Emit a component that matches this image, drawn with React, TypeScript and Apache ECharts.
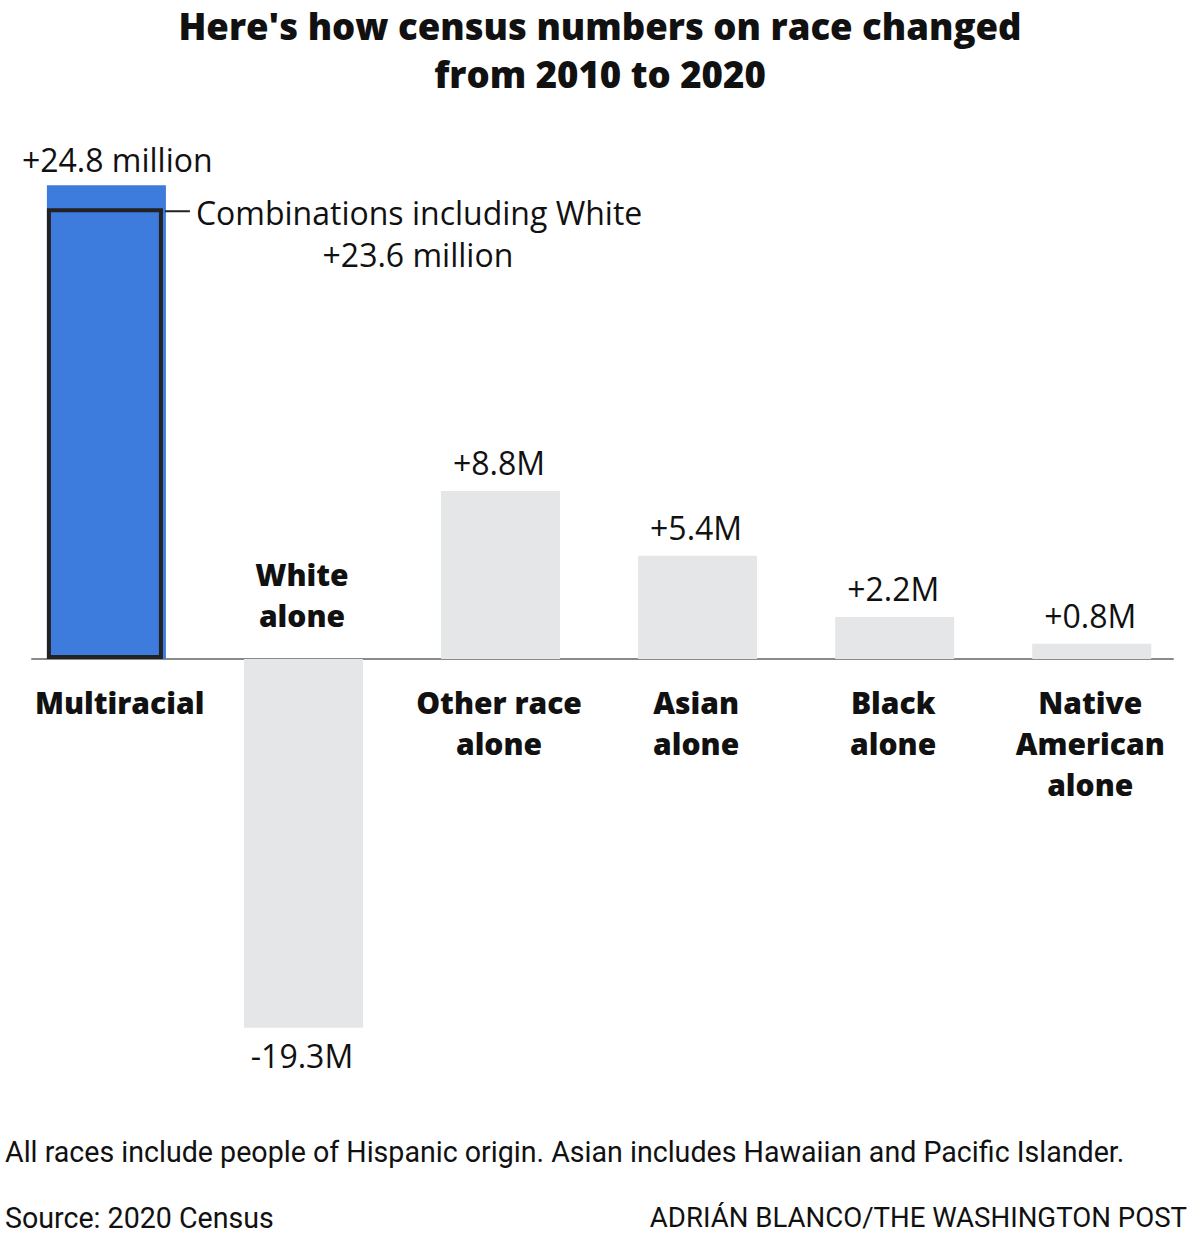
import React, { useEffect, useRef } from "react";
import * as echarts from "echarts";

// Change in population, 2010 to 2020, in millions
const categories = [
  "Multiracial",
  "White\nalone",
  "Other race\nalone",
  "Asian\nalone",
  "Black\nalone",
  "Native\nAmerican\nalone",
];
const changes = [24.8, -19.3, 8.8, 5.4, 2.2, 0.8];
const valueLabels = ["+24.8 million", "-19.3M", "+8.8M", "+5.4M", "+2.2M", "+0.8M"];
const whiteComboValue = 23.6;
const whiteComboLabel = "Combinations including White";
const whiteComboValueLabel = "+23.6 million";

const titleText = "Here's how census numbers on race changed\nfrom 2010 to 2020";
const noteText = "All races include people of Hispanic origin. Asian includes Hawaiian and Pacific Islander.";
const sourceText = "Source: 2020 Census";
const creditText = "ADRIÁN BLANCO/THE WASHINGTON POST";

const BLUE = "#3d7bdd";
const GREY = "#e5e6e7";
const FONT = "'Open Sans', Roboto, sans-serif";
const NOTE_FONT = "Roboto, 'Open Sans', sans-serif";

export default function App() {
  const ref = useRef<HTMLDivElement>(null);

  useEffect(() => {
    if (!ref.current) return;
    const chart = echarts.init(ref.current, null, { renderer: "svg" });

    const barData = changes.map((v, i) => ({
      value: [i, v],
      itemStyle: { color: i === 0 ? BLUE : GREY },
    }));

    const option: any = {
      animation: false,
      backgroundColor: "#fff",
      title: {
        text: titleText,
        left: "center",
        top: 2,
        padding: 0,
        textStyle: {
          fontFamily: FONT,
          fontWeight: 800,
          fontSize: 36.5,
          lineHeight: 48,
          color: "#111",
        },
      },
      grid: { left: 32, top: 181.5, width: 1141, height: 859.5 },
      xAxis: {
        type: "value",
        min: -0.37,
        max: 5.42,
        axisLine: { onZero: true, lineStyle: { color: "#8a8a8a", width: 2 } },
        axisTick: { show: false },
        axisLabel: { show: false },
        splitLine: { show: false },
      },
      yAxis: {
        type: "value",
        min: -20,
        max: 25,
        show: false,
      },
      series: [
        {
          type: "bar",
          name: "Change",
          data: barData,
          barWidth: 119,
          z: 2,
        },
        {
          type: "bar",
          name: whiteComboLabel,
          data: [{ value: [0, whiteComboValue] }],
          barWidth: 116,
          barGap: "-100%",
          itemStyle: { color: BLUE, borderColor: "#222", borderWidth: 4 },
          z: 3,
        },
        {
          // value and category labels
          type: "custom",
          data: changes.map((v, i) => [i, v]),
          z: 5,
          renderItem: (params: any, api: any) => {
            const i = api.value(0);
            const v = api.value(1);
            const base = api.coord([i, 0]);
            const end = api.coord([i, v]);
            const pos = v >= 0;
            const children: any[] = [];
            children.push({
              type: "text",
              x: i === 0 ? end[0] - 83 : end[0],
              y: i === 0 ? end[1] - 26 : pos ? end[1] - 28 : end[1] + 28,
              style: {
                text: valueLabels[i],
                fontFamily: FONT,
                fontSize: 32,
                fill: "#111",
                align: i === 0 ? "left" : "center",
                verticalAlign: "middle",
              },
            });
            children.push({
              type: "text",
              x: i === 0 ? base[0] - 70 : base[0],
              y: pos ? base[1] + 22.5 : base[1] - 23.5,
              style: {
                text: categories[i],
                fontFamily: FONT,
                fontWeight: 800,
                fontSize: 30,
                lineHeight: 41,
                fill: "#111",
                align: i === 0 ? "left" : "center",
                verticalAlign: pos ? "top" : "bottom",
              },
            });
            return { type: "group", children };
          },
        },
        {
          // callout for the outlined portion of the multiracial bar
          type: "custom",
          data: [[0, whiteComboValue]],
          z: 5,
          renderItem: (params: any, api: any) => {
            const p = api.coord([api.value(0), api.value(1)]);
            const right = p[0] + 60;
            const y = p[1] + 3;
            return {
              type: "group",
              children: [
                {
                  type: "line",
                  shape: { x1: right, y1: y, x2: right + 25, y2: y },
                  style: { stroke: "#222", lineWidth: 2 },
                },
                {
                  type: "text",
                  x: right + 31,
                  y: y + 1,
                  style: {
                    text: whiteComboLabel,
                    fontFamily: FONT,
                    fontSize: 32,
                    fill: "#111",
                    align: "left",
                    verticalAlign: "middle",
                  },
                },
                {
                  type: "text",
                  x: right + 253,
                  y: y + 43,
                  style: {
                    text: whiteComboValueLabel,
                    fontFamily: FONT,
                    fontSize: 32,
                    fill: "#111",
                    align: "center",
                    verticalAlign: "middle",
                  },
                },
              ],
            };
          },
        },
      ],
      graphic: [
        {
          type: "text",
          left: 5,
          top: 1137,
          style: { text: noteText, fontFamily: NOTE_FONT, fontSize: 28.6, fill: "#111" },
        },
        {
          type: "text",
          left: 5,
          top: 1203,
          style: { text: sourceText, fontFamily: NOTE_FONT, fontSize: 28.6, fill: "#111" },
        },
        {
          type: "text",
          right: 13,
          top: 1203,
          style: { text: creditText, fontFamily: NOTE_FONT, fontSize: 27.6, fill: "#111" },
        },
      ],
    };

    chart.setOption(option);
    return () => chart.dispose();
  }, []);

  return (
    <div
      ref={ref}
      style={{ position: "fixed", left: 0, top: 0, width: 1200, height: 1246 }}
    />
  );
}
